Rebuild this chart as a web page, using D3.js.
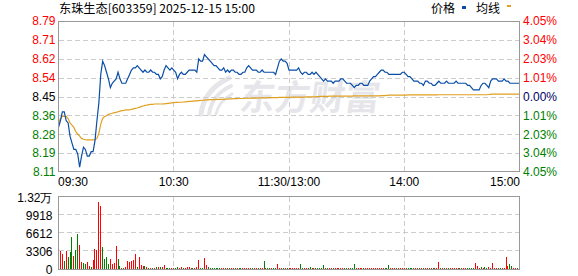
<!DOCTYPE html>
<meta charset="utf-8">
<style>
body { margin: 0; background: #fff; }
svg text { font-family: "Liberation Sans", Arial, sans-serif; font-size: 12px; }
svg text.cn { font-family: "Noto Sans CJK SC", sans-serif; }
.grid { stroke: #cccccc; stroke-dasharray: 5,3; shape-rendering: crispEdges; }
.frame { fill: none; stroke: #999999; shape-rendering: crispEdges; }
.line { fill: none; stroke-width: 1.2; }
</style>
<body>

<svg width="578" height="276"></svg>

<!-- load the d3.js library -->
<script src="https://cdn.jsdelivr.net/npm/d3@7/dist/d3.min.js"></script>

<script>

var title = "东珠生态[603359] 2025-12-15 15:00";
var legendNames = ["价格", "均线"];

var timeLabels = ["09:30", "10:30", "11:30/13:00", "14:00", "15:00"];
var timeIndex = [0, 60, 120, 180, 240];

var priceTicks = ["8.79", "8.71", "8.62", "8.54", "8.45", "8.36", "8.28", "8.19", "8.11"];
var pctTicks = ["4.05%", "3.04%", "2.03%", "1.01%", "0.00%", "1.01%", "2.03%", "3.04%", "4.05%"];
var volTicks = ["1.32万", "9918", "6612", "3306", "0"];

var preClose = 8.45;
var maxPct = 0.0405;
var volMax = 13224;

// one value per minute, 09:30 .. 11:30 then 13:01 .. 15:00
var price = [
  8.31,8.34,8.38,8.38,8.34,8.33,8.27,8.24,8.21,8.21,
  8.19,8.13,8.18,8.22,8.21,8.18,8.18,8.20,8.20,8.25,
  8.34,8.42,8.55,8.61,8.59,8.56,8.53,8.49,8.51,8.52,
  8.53,8.56,8.53,8.51,8.51,8.51,8.53,8.55,8.57,8.58,
  8.58,8.59,8.58,8.57,8.56,8.57,8.56,8.56,8.57,8.56,
  8.56,8.55,8.55,8.53,8.54,8.57,8.59,8.58,8.57,8.58,
  8.57,8.56,8.53,8.55,8.56,8.55,8.55,8.56,8.57,8.57,
  8.57,8.57,8.56,8.62,8.61,8.61,8.64,8.63,8.62,8.61,
  8.60,8.59,8.59,8.58,8.57,8.57,8.58,8.56,8.57,8.56,
  8.57,8.57,8.56,8.56,8.55,8.55,8.56,8.56,8.58,8.59,
  8.58,8.57,8.57,8.57,8.56,8.56,8.57,8.56,8.56,8.56,
  8.56,8.56,8.56,8.55,8.58,8.61,8.62,8.61,8.61,8.60,
  8.57,8.57,8.57,8.57,8.57,8.58,8.56,8.55,8.56,8.56,
  8.55,8.55,8.56,8.55,8.56,8.55,8.54,8.53,8.52,8.53,
  8.52,8.52,8.52,8.51,8.52,8.52,8.52,8.53,8.53,8.52,
  8.51,8.51,8.51,8.50,8.49,8.50,8.50,8.51,8.51,8.50,
  8.50,8.50,8.52,8.53,8.54,8.54,8.55,8.56,8.57,8.57,
  8.56,8.56,8.55,8.55,8.55,8.55,8.55,8.55,8.55,8.56,
  8.56,8.55,8.54,8.54,8.53,8.52,8.52,8.52,8.51,8.51,
  8.50,8.52,8.52,8.51,8.51,8.50,8.50,8.51,8.52,8.51,
  8.51,8.51,8.52,8.51,8.51,8.51,8.51,8.52,8.51,8.51,
  8.51,8.51,8.51,8.50,8.50,8.49,8.48,8.48,8.48,8.48,
  8.50,8.51,8.51,8.50,8.49,8.52,8.53,8.53,8.53,8.52,
  8.52,8.52,8.53,8.52,8.52,8.51,8.51,8.51,8.51,8.51,
  8.51
];

var avgPrice = [
  8.33,8.35,8.36,8.36,8.36,8.35,8.33,8.32,8.31,8.29,
  8.28,8.27,8.26,8.256,8.254,8.253,8.253,8.253,8.253,8.254,
  8.26,8.283,8.325,8.351,8.359,8.363,8.369,8.372,8.374,8.377,
  8.378,8.381,8.384,8.386,8.387,8.389,8.389,8.389,8.392,8.394,
  8.396,8.398,8.401,8.404,8.407,8.41,8.411,8.413,8.414,8.414,
  8.416,8.416,8.416,8.416,8.416,8.417,8.418,8.419,8.42,8.421,
  8.422,8.423,8.423,8.424,8.424,8.425,8.426,8.427,8.428,8.428,
  8.429,8.43,8.43,8.431,8.432,8.433,8.434,8.435,8.435,8.436,
  8.436,8.436,8.437,8.437,8.437,8.437,8.437,8.438,8.438,8.439,
  8.439,8.44,8.44,8.44,8.441,8.441,8.441,8.442,8.442,8.442,
  8.443,8.443,8.443,8.443,8.444,8.444,8.444,8.444,8.444,8.445,
  8.445,8.445,8.445,8.445,8.445,8.446,8.446,8.446,8.446,8.446,
  8.446,8.446,8.447,8.447,8.447,8.447,8.447,8.447,8.447,8.448,
  8.448,8.448,8.448,8.448,8.448,8.450,8.451,8.451,8.451,8.451,
  8.451,8.452,8.452,8.452,8.452,8.452,8.452,8.452,8.452,8.452,
  8.452,8.452,8.452,8.452,8.453,8.453,8.453,8.453,8.453,8.453,
  8.453,8.453,8.453,8.453,8.453,8.453,8.453,8.453,8.454,8.454,
  8.454,8.455,8.456,8.456,8.456,8.456,8.456,8.456,8.456,8.456,
  8.456,8.456,8.457,8.457,8.457,8.457,8.457,8.457,8.457,8.457,
  8.457,8.457,8.457,8.457,8.457,8.457,8.457,8.457,8.458,8.458,
  8.458,8.458,8.458,8.458,8.458,8.458,8.458,8.458,8.458,8.458,
  8.458,8.458,8.458,8.458,8.458,8.458,8.458,8.458,8.458,8.458,
  8.458,8.458,8.458,8.458,8.459,8.460,8.461,8.461,8.461,8.461,
  8.461,8.461,8.461,8.461,8.461,8.461,8.461,8.461,8.461,8.461,
  8.461
];

var volume = [
  6340,3260,2660,1330,3260,2170,3080,5680,2360,3440,
  6340,4230,1270,970,850,1270,480,240,1630,3620,
  3440,12200,11420,3990,1810,2170,790,1810,790,970,
  4170,1810,420,60,60,360,1450,1270,1450,1630,
  2720,240,2170,720,420,420,240,60,60,180,
  60,240,360,240,360,720,120,120,120,60,
  60,60,300,60,240,60,60,240,240,60,
  60,120,240,1630,60,60,1990,720,360,60,
  120,60,60,90,60,60,120,60,60,60,
  60,60,60,60,90,60,60,60,120,120,
  60,60,60,60,60,60,60,1450,60,60,
  60,60,60,60,900,180,120,60,60,60,
  60,60,60,60,60,90,850,60,60,60,
  60,300,60,60,60,60,60,90,660,60,
  60,60,60,60,60,60,60,90,60,60,
  60,60,60,60,850,60,60,60,60,60,
  60,60,60,60,60,60,60,90,60,60,
  60,60,660,60,60,60,60,60,60,60,
  60,60,60,60,60,60,60,60,60,60,
  60,60,60,60,60,60,60,60,1210,60,
  60,60,60,60,60,60,60,60,60,60,
  60,60,60,60,60,60,60,1030,480,60,
  240,60,300,60,300,60,1030,60,60,60,
  60,60,60,2110,480,850,480,60,60,60,
  2480
];

// r = up minute, g = down minute
var volDir = (
  "grrgrgggrg" + "grrggrrgrr" + "rrrggggrrr" + "rggrgrrrrr" +
  "rgrrrgrgrg" + "rgrgrrgggr" + "rggrrgrrrr" + "grrrggrrgg" +
  "gggggrrgrg" + "rrgrggrrrr" + "ggrrgrrgrg" + "grggrrrgrg" +
  "rrrrrrggrr" + "ggrgrggggr" + "grrgrrrrrg" + "grgggrrrrg" +
  "rrrrrrrrrr" + "gggrrrgrrr" + "rgggggrrgr" + "grrgrgrrrg" +
  "rgrgrrrrgr" + "grrggggrrr" + "grggrrrrrg" + "grrrrggrrg" + "r"
).split("");

var red = "#ff0000", green = "#008000";
var priceColor = "#0a4ea6", avgColor = "#e0a020";

var svg = d3.select("svg");

var frame  = {left: 58.5, right: 519.5, top: 21.5, bottom: 171.5};
var vframe = {top: 196.5, bottom: 269.5};

var x  = d3.scaleLinear().domain([0, 240]).range([58.5, 519.5]);
var y  = d3.scaleLinear()
    .domain([preClose * (1 - maxPct), preClose * (1 + maxPct)])
    .range([172, 21]);
var vy = d3.scaleLinear().domain([0, volMax]).range([268.5, 196]);

function hpix(v) { return Math.round(v) + 0.5; }
function vpix(v) { return Math.floor(v) + 0.5; }

function tickColor(i) {
    if (i < 4) return red;
    if (i > 4) return green;
    return null;
}

// watermark
var mark = svg.append("g").attr("class", "watermark");
[["M201,114 C203,98 212,86 229,78", 5], ["M209,114 C211,101 218,92 231,86", 4],
 ["M216,114 C218,105 223,99 232,94", 3]].forEach(function(s) {
    mark.append("path").attr("d", s[0])
        .attr("fill", "none").attr("stroke", "#e6e6ea")
        .attr("stroke-width", s[1]).attr("stroke-linecap", "round");
});
mark.append("text")
    .attr("class", "cn")
    .attr("x", 240).attr("y", 110)
    .attr("transform", "skewX(-8) translate(14,0)")
    .style("font-size", "35px").style("font-weight", "bold")
    .attr("fill", "#e6e6ea")
    .text("东方财富");

// price panel grid
var priceVals = d3.range(9).map(function(i) {
    return y.domain()[1] - i * (y.domain()[1] - y.domain()[0]) / 8;
});

svg.append("g").selectAll("line")
    .data(priceVals.slice(1, 8))
    .enter().append("line")
    .attr("class", "grid")
    .attr("x1", frame.left).attr("x2", frame.right)
    .attr("y1", function(d) { return hpix(y(d)); })
    .attr("y2", function(d) { return hpix(y(d)); });

svg.append("g").selectAll("line")
    .data(timeIndex.slice(1, 4))
    .enter().append("line")
    .attr("class", "grid")
    .attr("x1", function(d) { return vpix(x(d)); })
    .attr("x2", function(d) { return vpix(x(d)); })
    .attr("y1", frame.top).attr("y2", frame.bottom);

// volume panel grid
var volVals = d3.range(5).map(function(i) { return volMax * (4 - i) / 4; });

svg.append("g").selectAll("line")
    .data(volVals.slice(1, 4))
    .enter().append("line")
    .attr("class", "grid")
    .attr("x1", frame.left).attr("x2", frame.right)
    .attr("y1", function(d) { return hpix(vy(d)); })
    .attr("y2", function(d) { return hpix(vy(d)); });

svg.append("g").selectAll("line")
    .data(timeIndex.slice(1, 4))
    .enter().append("line")
    .attr("class", "grid")
    .attr("x1", function(d) { return vpix(x(d)); })
    .attr("x2", function(d) { return vpix(x(d)); })
    .attr("y1", vframe.top).attr("y2", vframe.bottom);

// volume bars
svg.append("g").selectAll("rect")
    .data(volume)
    .enter().append("rect")
    .attr("x", function(d, i) { return Math.floor(x(i)); })
    .attr("width", 1)
    .attr("y", function(d) { return vy(d); })
    .attr("height", function(d) { return 269 - vy(d); })
    .attr("fill", function(d, i) { return volDir[i] === "r" ? red : green; })
    .style("shape-rendering", "crispEdges");

// price and average lines
var priceLine = d3.line()
    .x(function(d, i) { return x(i); })
    .y(function(d) { return y(d); });

svg.append("path")
    .datum(avgPrice)
    .attr("class", "line")
    .attr("stroke", avgColor)
    .attr("d", priceLine);

svg.append("path")
    .datum(price)
    .attr("class", "line")
    .attr("stroke", priceColor)
    .attr("d", priceLine);

// frames
svg.append("rect").attr("class", "frame")
    .attr("x", frame.left).attr("y", frame.top)
    .attr("width", frame.right - frame.left).attr("height", frame.bottom - frame.top);
svg.append("rect").attr("class", "frame")
    .attr("x", frame.left).attr("y", vframe.top)
    .attr("width", frame.right - frame.left).attr("height", vframe.bottom - vframe.top);

// axis labels
svg.append("g").selectAll("text")
    .data(priceTicks)
    .enter().append("text")
    .attr("x", 55.5)
    .attr("y", function(d, i) { return y(priceVals[i]) + 4.3; })
    .attr("text-anchor", "end")
    .attr("fill", function(d, i) { return tickColor(i) || "#000"; })
    .text(function(d) { return d; });

svg.append("g").selectAll("text")
    .data(pctTicks)
    .enter().append("text")
    .attr("x", 523)
    .attr("y", function(d, i) { return y(priceVals[i]) + 4.3; })
    .attr("fill", function(d, i) { return tickColor(i) || "#000066"; })
    .text(function(d) { return d; });

svg.append("g").selectAll("text")
    .data(volTicks)
    .enter().append("text")
    .attr("x", 52.5)
    .attr("y", function(d, i) { return Math.min(vy(volVals[i]) + 6, 273.5); })
    .attr("text-anchor", "end")
    .attr("fill", "#000")
    .text(function(d) { return d; });

svg.append("g").selectAll("text")
    .data(timeLabels)
    .enter().append("text")
    .attr("x", function(d, i) {
        if (i === 0) return 58;
        if (i === timeLabels.length - 1) return 520;
        return x(timeIndex[i]);
    })
    .attr("y", 186)
    .attr("text-anchor", function(d, i) {
        if (i === 0) return "start";
        if (i === timeLabels.length - 1) return "end";
        return "middle";
    })
    .attr("fill", "#000")
    .text(function(d) { return d; });

// title and legend
svg.append("text")
    .attr("class", "cn")
    .attr("x", 59).attr("y", 13)
    .attr("textLength", 196).attr("lengthAdjust", "spacingAndGlyphs")
    .attr("fill", "#000")
    .text(title);

var legend = svg.append("g").attr("class", "legend");
legend.append("text").attr("class", "cn")
    .attr("x", 431).attr("y", 13).attr("fill", "#000").text(legendNames[0]);
legend.append("rect")
    .attr("x", 462).attr("y", 6).attr("width", 4).attr("height", 3)
    .attr("fill", priceColor);
legend.append("text").attr("class", "cn")
    .attr("x", 476).attr("y", 13).attr("fill", "#000").text(legendNames[1]);
legend.append("rect")
    .attr("x", 507).attr("y", 5).attr("width", 4).attr("height", 2)
    .attr("fill", avgColor);

</script>
</body>
